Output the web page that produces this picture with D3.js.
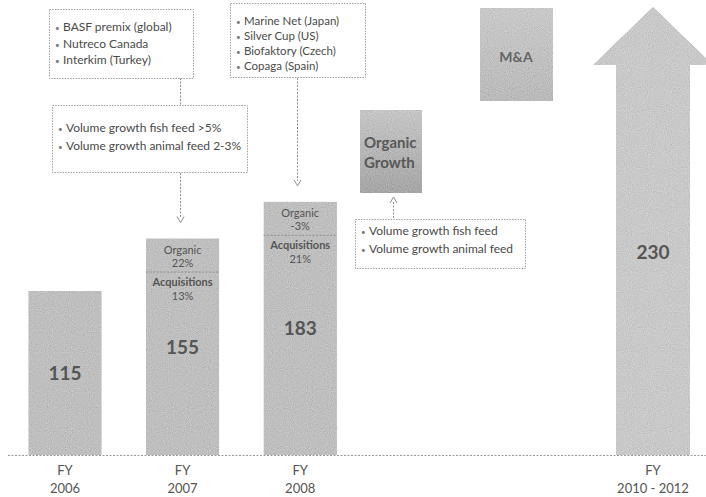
<!DOCTYPE html>
<html>
<head>
<meta charset="utf-8">
<script src="https://cdn.jsdelivr.net/npm/d3@7"></script>
<style>
  html, body { margin: 0; padding: 0; background: #fff; }
  svg { display: block; font-family: Lato, "Open Sans", sans-serif; }
</style>
</head>
<body>
<svg id="chart" width="706" height="497"></svg>
<script>
// Revenue development by fiscal year (bars) and the 2010-2012 ambition (arrow)
const fiscalYears = [2006, 2007, 2008];
const yearLabels = ["2006", "2007", "2008"];
const revenue = [115, 155, 183];
const organicGrowth = [null, 22, -3];      // % contribution
const acquisitionGrowth = [null, 13, 21];  // % contribution

const outlookYear = 2011;                  // midpoint of the 2010-2012 window
const outlookLabel = "2010 - 2012";
const outlookTarget = 230;

const acquisitions2007 = ["BASF premix (global)", "Nutreco Canada", "Interkim (Turkey)"];
const acquisitions2008 = ["Marine Net (Japan)", "Silver Cup (US)", "Biofaktory (Czech)", "Copaga (Spain)"];
const drivers2007 = ["Volume growth fish feed >5%", "Volume growth animal feed 2-3%"];
const driversOutlook = ["Volume growth fish feed", "Volume growth animal feed"];
const levers = ["M&A", "Organic Growth"];

const W = 706, H = 497;
const baseY = 455;
const barW = 73;
const textCol = "#555";

const svg = d3.select("#chart");

const x = d3.scaleLinear().domain([2006, 2011]).range([65, 653]);
const y = d3.scaleLinear().domain([-10, 330]).range([baseY, 9]);

// textures and shading
const defs = svg.append("defs");
const grain = defs.append("filter").attr("id", "grain")
  .attr("x", 0).attr("y", 0).attr("width", "100%").attr("height", "100%");
grain.append("feTurbulence").attr("type", "fractalNoise").attr("baseFrequency", 0.95)
  .attr("numOctaves", 1).attr("seed", 7).attr("result", "noise");
grain.append("feColorMatrix").attr("in", "noise").attr("type", "matrix")
  .attr("values", "0.33 0.33 0.33 0 0  0.33 0.33 0.33 0 0  0.33 0.33 0.33 0 0  0 0 0 0 1")
  .attr("result", "mono");
grain.append("feComposite").attr("in", "SourceGraphic").attr("in2", "mono")
  .attr("operator", "arithmetic").attr("k1", 0).attr("k2", 1).attr("k3", 0.55).attr("k4", -0.275)
  .attr("result", "mix");
grain.append("feComposite").attr("in", "mix").attr("in2", "SourceAlpha").attr("operator", "in");

const og = defs.append("linearGradient").attr("id", "organicFill")
  .attr("x1", 0).attr("y1", 0).attr("x2", 0).attr("y2", 1);
og.append("stop").attr("offset", "0%").attr("stop-color", "#c6c6c6");
og.append("stop").attr("offset", "100%").attr("stop-color", "#a6a6a6");

const ma = defs.append("linearGradient").attr("id", "maFill")
  .attr("x1", 0).attr("y1", 0).attr("x2", 0).attr("y2", 1);
ma.append("stop").attr("offset", "0%").attr("stop-color", "#c9c9c9");
ma.append("stop").attr("offset", "100%").attr("stop-color", "#bababa");

// dotted baseline
svg.append("line")
  .attr("x1", 8).attr("x2", W).attr("y1", baseY + 0.5).attr("y2", baseY + 0.5)
  .attr("stroke", "#9a9a9a").attr("stroke-dasharray", "2,1.5");

// historic bars
const bars = fiscalYears.map((fy, i) => ({
  fy, label: yearLabels[i], value: revenue[i],
  organic: organicGrowth[i], acq: acquisitionGrowth[i]
}));

const g = svg.selectAll("g.bar").data(bars).join("g").attr("class", "bar");
g.append("rect")
  .attr("x", d => x(d.fy) - barW / 2)
  .attr("y", d => y(d.value))
  .attr("width", barW)
  .attr("height", d => baseY - y(d.value))
  .attr("fill", "#bfbfbf")
  .attr("filter", "url(#grain)");

g.append("text")
  .attr("x", d => x(d.fy))
  .attr("y", d => (y(d.value) + baseY) / 2 + 7)
  .attr("text-anchor", "middle")
  .attr("font-size", 19).attr("font-weight", 700).attr("fill", textCol)
  .text(d => d.value);

// growth split inside the bars that have one
const split = g.filter(d => d.organic !== null);
const pct = v => `${v}%`;
split.append("text").attr("x", d => x(d.fy)).attr("y", d => y(d.value) + 15)
  .attr("text-anchor", "middle").attr("font-size", 11).attr("fill", textCol)
  .text("Organic");
split.append("text").attr("x", d => x(d.fy)).attr("y", d => y(d.value) + 28)
  .attr("text-anchor", "middle").attr("font-size", 11).attr("fill", textCol)
  .text(d => pct(d.organic));
split.append("line")
  .attr("x1", d => x(d.fy) - barW / 2).attr("x2", d => x(d.fy) + barW / 2)
  .attr("y1", d => y(d.value) + 33.5).attr("y2", d => y(d.value) + 33.5)
  .attr("stroke", "#8f8f8f").attr("stroke-dasharray", "2,1.5");
split.append("text").attr("x", d => x(d.fy)).attr("y", d => y(d.value) + 47)
  .attr("text-anchor", "middle").attr("font-size", 11).attr("font-weight", 700).attr("fill", textCol)
  .text("Acquisitions");
split.append("text").attr("x", d => x(d.fy)).attr("y", d => y(d.value) + 61)
  .attr("text-anchor", "middle").attr("font-size", 11).attr("fill", textCol)
  .text(d => pct(d.acq));

// outlook arrow, running to the top of the value range
const ax = x(outlookYear);
const tipY = y.range()[1] - 2;
const headH = 58, headHalf = 60, shaftHalf = 37;
svg.append("path")
  .attr("d", `M${ax},${tipY} L${ax + headHalf},${tipY + headH} L${ax + shaftHalf},${tipY + headH}
              L${ax + shaftHalf},${baseY} L${ax - shaftHalf},${baseY} L${ax - shaftHalf},${tipY + headH}
              L${ax - headHalf},${tipY + headH} Z`)
  .attr("fill", "#c9c9c9")
  .attr("filter", "url(#grain)");
svg.append("text")
  .attr("x", ax).attr("y", 259)
  .attr("text-anchor", "middle").attr("font-size", 19).attr("font-weight", 700).attr("fill", textCol)
  .text(outlookTarget);

// category labels
const cats = bars.map(d => ({ pos: x(d.fy), label: d.label }))
  .concat([{ pos: ax, label: outlookLabel }]);
const cl = svg.selectAll("g.cat").data(cats).join("g").attr("class", "cat");
cl.append("text").attr("x", d => d.pos).attr("y", 475)
  .attr("text-anchor", "middle").attr("font-size", 13).attr("fill", textCol).text("FY");
cl.append("text").attr("x", d => d.pos).attr("y", 493)
  .attr("text-anchor", "middle").attr("font-size", 13).attr("fill", textCol).text(d => d.label);

// growth levers
svg.append("rect").attr("x", 480).attr("y", 8).attr("width", 73).attr("height", 93)
  .attr("fill", "url(#maFill)").attr("filter", "url(#grain)");
svg.append("text").attr("x", 516).attr("y", 62).attr("text-anchor", "middle")
  .attr("font-size", 14).attr("font-weight", 700).attr("fill", "#666").text(levers[0]);

svg.append("rect").attr("x", 360).attr("y", 110).attr("width", 62).attr("height", 83)
  .attr("fill", "url(#organicFill)").attr("filter", "url(#grain)");
const ogWords = levers[1].split(" ");
svg.append("text").attr("x", 364).attr("y", 148)
  .attr("font-size", 15).attr("font-weight", 700).attr("fill", "#585858").text(ogWords[0]);
svg.append("text").attr("x", 364).attr("y", 168)
  .attr("font-size", 15).attr("font-weight", 700).attr("fill", "#585858").text(ogWords[1]);

// bullet call-out boxes
function callout(bx, by, bw, bh, lines, firstY, step, size) {
  svg.append("rect").attr("x", bx + 0.5).attr("y", by + 0.5).attr("width", bw).attr("height", bh)
    .attr("fill", "#fff").attr("stroke", "#9f9f9f").attr("stroke-dasharray", "1.5,1.2");
  lines.forEach((t, i) => {
    svg.append("text").attr("x", bx + 6).attr("y", firstY + i * step + 4)
      .attr("font-size", 8).attr("fill", "#777").text("•");
    svg.append("text").attr("x", bx + 14).attr("y", firstY + i * step + 4)
      .attr("font-size", size).attr("fill", "#4a4a4a").text(t);
  });
}

function dashedArrow(x0, y0, y1) {
  const up = y1 < y0;
  svg.append("line").attr("x1", x0).attr("x2", x0).attr("y1", y0).attr("y2", up ? y1 + 5 : y1 - 5)
    .attr("stroke", "#8f8f8f").attr("stroke-dasharray", "2,1.5");
  const s = up ? -1 : 1;
  svg.append("path")
    .attr("d", `M${x0 - 3.5},${y1 - s * 6} L${x0},${y1} L${x0 + 3.5},${y1 - s * 6}`)
    .attr("fill", "none").attr("stroke", "#8f8f8f");
}

// 2007 story
svg.append("line").attr("x1", 180.5).attr("x2", 180.5).attr("y1", 78).attr("y2", 106)
  .attr("stroke", "#8f8f8f").attr("stroke-dasharray", "2,1.5");
dashedArrow(180.5, 173, y(155) - 16);
callout(49, 9, 144, 69, acquisitions2007, 27, 16.5, 12);
callout(52, 105, 195, 67, drivers2007, 128, 17.5, 12);

// 2008 story
dashedArrow(297.5, 78, y(183) - 16);
callout(230, 3, 135, 74, acquisitions2008, 21, 15, 11.5);

// outlook drivers
dashedArrow(393.5, 218, 197);
callout(355, 219, 170, 49, driversOutlook, 231, 18, 12);
</script>
</body>
</html>
